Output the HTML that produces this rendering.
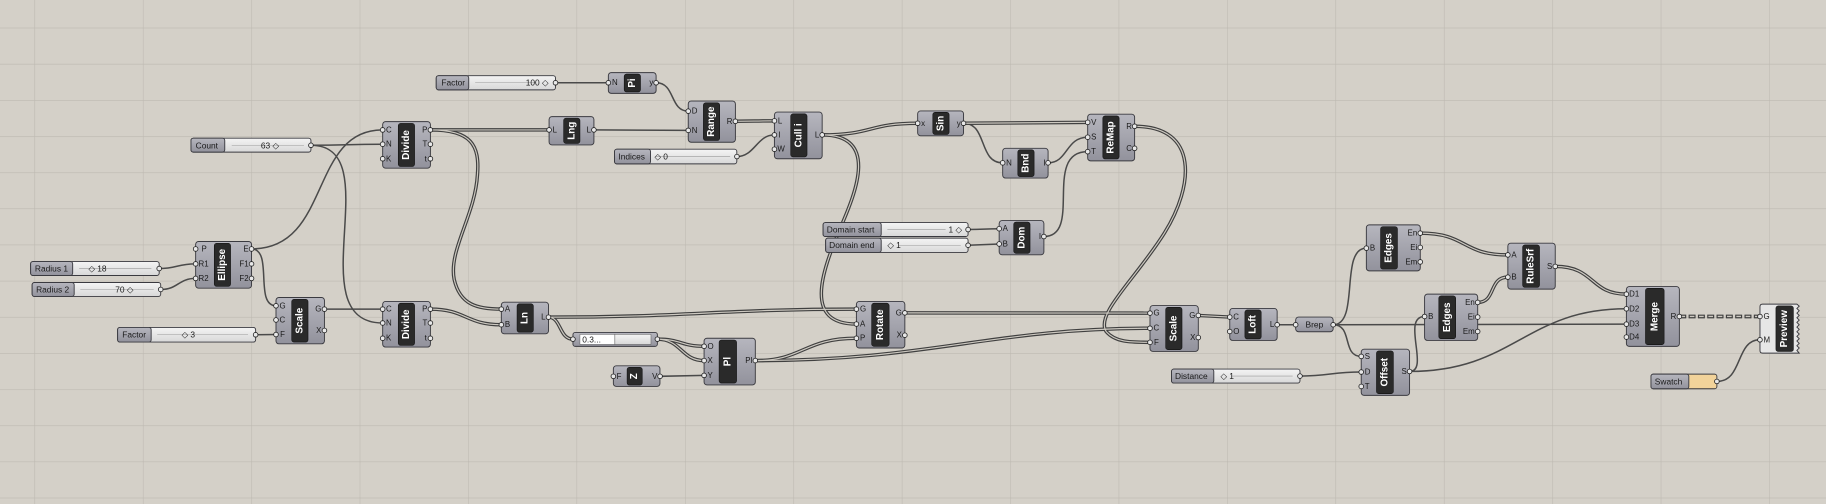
<!DOCTYPE html>
<html><head><meta charset="utf-8"><style>
html,body{margin:0;padding:0;background:#d4d0c8;overflow:hidden}
svg{display:block}
text{font-family:"Liberation Sans",sans-serif}
.b{fill:url(#ng);stroke:#3a3a40;stroke-width:.8}
.p{fill:#2a2a2a;stroke:#111;stroke-width:.5}
.nm{fill:#fff;font-weight:bold;font-size:8.5px;text-anchor:middle;dominant-baseline:central}
.l{font-size:6.8px;fill:#1a1a1a;dominant-baseline:central}
.r{text-anchor:end}
.c{fill:#e8e8e8;stroke:#222;stroke-width:.7}
.sw{stroke:#3a3a40;stroke-width:.8}
.sl{font-size:7.2px;fill:#1a1a1a;dominant-baseline:central}
.tk{stroke:#9a9a9a;stroke-width:.5}
.w{fill:none;stroke:#4a4a4a;stroke-width:1.3}
</style></head><body>
<svg width="1826" height="504" viewBox="0 0 1568 433" preserveAspectRatio="none" xmlns="http://www.w3.org/2000/svg">
<defs>
<linearGradient id="ng" x1="0" y1="0" x2="0" y2="1"><stop offset="0" stop-color="#b6b6be"/><stop offset="1" stop-color="#92929c"/></linearGradient>
<linearGradient id="sg" x1="0" y1="0" x2="0" y2="1"><stop offset="0" stop-color="#f4f4f4"/><stop offset="1" stop-color="#d8d8d8"/></linearGradient>
<pattern id="grid" x="29.6" y="23.8" width="93.1" height="31.06" patternUnits="userSpaceOnUse"><path d="M0 0 L93.1 0 M0 0 L0 31.06" stroke="#bdb9b1" stroke-width="1" fill="none"/></pattern>
<g id="dbl">
<path d="M631.5 104.2 C648 104.2 648 103.8 665 103.8"/>
<path d="M705.8 115.9 C750 115.9 745 105.9 788 105.9"/>
<path d="M705.8 115.9 C755 115.9 735 165 722 195 C705 235 690 278.4 735.4 278.4"/>
<path d="M827.4 105.9 L934 105.1"/>
<path d="M974.3 108.5 C1030 108.5 1025 160 1000 200 C975 240 940 270 950 285 C958 294 970 294.1 987.5 294.1"/>
<path d="M369.7 111.6 L471.5 111.6"/>
<path d="M369.7 111.6 C405 111.6 412 125 410 150 C408 185 385 215 390 240 C395 262 410 265.6 430.5 265.6"/>
<path d="M369.7 265.6 C400 265.6 400 279 430.5 279"/>
<path d="M471 272.5 C590 272.5 620 265.6 735.4 265.6"/>
<path d="M471 272.5 C482 272.5 480 291.4 492 291.4"/>
<path d="M564.5 291.4 C585 291.4 585 297.5 604.6 297.5"/>
<path d="M564.5 291.4 C585 291.4 585 309.8 604.6 309.8"/>
<path d="M648.6 309.8 C690 309.8 690 290.6 735.4 290.6"/>
<path d="M648.6 309.8 C800 309.8 850 282 987.5 282"/>
<path d="M777 268.8 L987.5 269"/>
<path d="M1029 271 L1056 272.4"/>
<path d="M1219.6 200.3 C1260 200.3 1255 219 1294.8 219"/>
<path d="M1268.9 259.8 C1285 259.8 1278 238.1 1294.8 238.1"/>
<path d="M1335.5 228.9 C1370 228.9 1365 252.7 1396.6 252.7"/>
</g>
</defs>
<rect x="0" y="0" width="1568" height="433" fill="#d4d0c8"/>
<rect x="0" y="0" width="1568" height="433" fill="url(#grid)"/>

<g class="w">
<path d="M477 71.1 L522.4 71.1"/>
<path d="M563.5 71.1 C580 71.1 575 95.5 591 95.5"/>
<path d="M510 111.6 L591 112"/>
<path d="M632.8 134.5 C648 134.5 650 115.9 665 115.9"/>
<path d="M827.4 105.9 C848 105.9 840 139.9 861 139.9"/>
<path d="M900 139.9 C917 139.9 915 117.9 934 117.9"/>
<path d="M896.4 203.2 C930 203.2 895 130.3 934 130.3"/>
<path d="M831.3 197.2 C845 197.2 845 196.5 858 196.5"/>
<path d="M831.3 210.7 L858 209.6"/>
<path d="M267 124.8 C298 124.8 298 123.9 328.6 123.9"/>
<path d="M267 124.8 C335 124.8 255 277.5 328.6 277.5"/>
<path d="M216 213.9 C285 213.9 265 111.6 328.6 111.6"/>
<path d="M216 213.9 C235 213.9 218 262.7 237 262.7"/>
<path d="M136.7 230.7 C152 230.7 152 226.7 168 226.7"/>
<path d="M138 248.7 C153 248.7 153 239.2 168 239.2"/>
<path d="M219.5 287.6 L237 287.4"/>
<path d="M278.6 265.6 L328.6 265.6"/>
<path d="M566.8 323.3 L604.6 322.5"/>
<path d="M1116.3 323.1 C1142 323.1 1143 319.6 1168.9 319.6"/>
<path d="M1474.3 327.7 C1497 327.7 1490 291.9 1511.3 291.9"/>
<path d="M1144.8 279 C1168 279 1150 213.2 1173.3 213.2"/>
<path d="M1144.8 279 L1396.6 278.5"/>
<path d="M1144.8 279 C1162 279 1152 306.2 1168.9 306.2"/>
<path d="M1210.4 319.1 C1228 319.1 1203 271.9 1223.3 271.9"/>
<path d="M1210.4 319.1 C1300 319.1 1310 265.3 1396.6 265.3"/>
<path d="M1096.7 279 L1112.6 279"/>
</g>
<use href="#dbl" fill="none" stroke="#404040" stroke-width="3"/>
<use href="#dbl" fill="none" stroke="#cdc9c1" stroke-width="1"/>
<path d="M1442 271.9 L1511.3 271.9" fill="none" stroke="#404040" stroke-width="3.2" stroke-dasharray="6 2"/>
<path d="M1442 271.9 L1511.3 271.9" fill="none" stroke="#cdc9c1" stroke-width="1.2" stroke-dasharray="4 4" stroke-dashoffset="-1"/>

<g>
<rect class="sw" x="374.6" y="65" width="102.4" height="12.2" rx="2" fill="url(#sg)"/><rect class="b" x="374.6" y="65" width="27.9" height="12.2" rx="2"/><text class="sl" x="379" y="71.1">Factor</text><line class="tk" x1="408" y1="71.1" x2="460" y2="71.1"/><text class="sl" x="471" y="71.1" text-anchor="end">100 ◇</text><circle class="c" cx="477" cy="71.1" r="2"/>
<rect class="sw" x="164" y="118.7" width="103" height="12" rx="2" fill="url(#sg)"/><rect class="b" x="164" y="118.7" width="29" height="12" rx="2"/><text class="sl" x="168" y="124.8">Count</text><line class="tk" x1="199" y1="124.8" x2="261" y2="124.8"/><text class="sl" x="224" y="124.8">63 ◇</text><circle class="c" cx="267" cy="124.8" r="2"/>
<rect class="sw" x="26.3" y="224.7" width="110.4" height="12" rx="2" fill="url(#sg)"/><rect class="b" x="26.3" y="224.7" width="36.1" height="12" rx="2"/><text class="sl" x="30" y="230.7">Radius 1</text><line class="tk" x1="68" y1="230.7" x2="130" y2="230.7"/><text class="sl" x="76" y="230.7">◇ 18</text><circle class="c" cx="136.7" cy="230.7" r="2"/>
<rect class="sw" x="27.6" y="242.7" width="110.4" height="12" rx="2" fill="url(#sg)"/><rect class="b" x="27.6" y="242.7" width="36.1" height="12" rx="2"/><text class="sl" x="31" y="248.7">Radius 2</text><line class="tk" x1="69" y1="248.7" x2="132" y2="248.7"/><text class="sl" x="99" y="248.7">70 ◇</text><circle class="c" cx="138" cy="248.7" r="2"/>
<rect class="sw" x="101" y="281.3" width="118.5" height="12.6" rx="2" fill="url(#sg)"/><rect class="b" x="101" y="281.3" width="28.8" height="12.6" rx="2"/><text class="sl" x="105" y="287.6">Factor</text><line class="tk" x1="135" y1="287.6" x2="213" y2="287.6"/><text class="sl" x="156" y="287.6">◇ 3</text><circle class="c" cx="219.5" cy="287.6" r="2"/>
<rect class="sw" x="527.7" y="128.2" width="105" height="12.6" rx="2" fill="url(#sg)"/><rect class="b" x="527.7" y="128.2" width="30.9" height="12.6" rx="2"/><text class="sl" x="531" y="134.5">Indices</text><line class="tk" x1="563" y1="134.5" x2="627" y2="134.5"/><text class="sl" x="562" y="134.5">◇ 0</text><circle class="c" cx="632.8" cy="134.5" r="2"/>
<rect class="sw" x="706.8" y="191.2" width="124.5" height="12" rx="2" fill="url(#sg)"/><rect class="b" x="706.8" y="191.2" width="49.9" height="12" rx="2"/><text class="sl" x="710" y="197.2">Domain start</text><line class="tk" x1="762" y1="197.2" x2="812" y2="197.2"/><text class="sl" x="826" y="197.2" text-anchor="end">1 ◇</text><circle class="c" cx="831.3" cy="197.2" r="2"/>
<rect class="sw" x="709" y="204.6" width="122.3" height="12.3" rx="2" fill="url(#sg)"/><rect class="b" x="709" y="204.6" width="47.7" height="12.3" rx="2"/><text class="sl" x="712" y="210.7">Domain end</text><line class="tk" x1="772" y1="210.7" x2="825" y2="210.7"/><text class="sl" x="762" y="210.7">◇ 1</text><circle class="c" cx="831.3" cy="210.7" r="2"/>
<rect class="sw" x="1006" y="317.1" width="110.3" height="12" rx="2" fill="url(#sg)"/><rect class="b" x="1006" y="317.1" width="36.3" height="12" rx="2"/><text class="sl" x="1009" y="323.1">Distance</text><line class="tk" x1="1058" y1="323.1" x2="1110" y2="323.1"/><text class="sl" x="1048" y="323.1">◇ 1</text><circle class="c" cx="1116.3" cy="323.1" r="2"/>
<rect class="sw" x="1417.7" y="321.4" width="56.6" height="12.6" rx="2" fill="#f2d39a"/><rect class="b" x="1417.7" y="321.4" width="32.5" height="12.6" rx="2"/><text class="sl" x="1421" y="327.7">Swatch</text><circle class="c" cx="1474.3" cy="327.7" r="2"/>
<rect class="b" x="492" y="285.6" width="72.5" height="12" rx="2"/><rect x="498" y="287.3" width="30" height="8.6" fill="#fff" stroke="#555" stroke-width=".4"/><rect x="528" y="287.3" width="31" height="8.6" fill="url(#sg)" stroke="#555" stroke-width=".4"/><text class="sl" x="500" y="291.6" font-size="6.5">0.3...</text><circle class="c" cx="492" cy="291.4" r="2"/><circle class="c" cx="564.5" cy="291.4" r="2"/>
</g>

<g>
<rect class="b" x="522.4" y="62.4" width="41" height="17.8" rx="2.5"/><rect class="p" x="536" y="63.6" width="14" height="15.4" rx="2"/><text class="nm" transform="translate(543 71.3) rotate(-90)">Pi</text>
<text class="l" x="525.5" y="71.1">N</text><text class="l r" x="561" y="71.1">y</text><circle class="c" cx="522.4" cy="71.1" r="2"/><circle class="c" cx="563.4" cy="71.1" r="2"/>
<rect class="b" x="591" y="86.8" width="40.5" height="35.4" rx="2.5"/><rect class="p" x="604" y="88.3" width="14" height="32.4" rx="2"/><text class="nm" transform="translate(611 104.5) rotate(-90)">Range</text>
<text class="l" x="594" y="95.5">D</text><text class="l" x="594" y="112">N</text><text class="l r" x="629" y="104.2">R</text><circle class="c" cx="591" cy="95.5" r="2"/><circle class="c" cx="591" cy="112" r="2"/><circle class="c" cx="631.5" cy="104.2" r="2"/>
<rect class="b" x="665" y="96.3" width="41" height="40.1" rx="2.5"/><rect class="p" x="679" y="97.8" width="14" height="37" rx="2"/><text class="nm" transform="translate(686 116.3) rotate(-90)">Cull i</text>
<text class="l" x="668" y="103.8">L</text><text class="l" x="668.5" y="115.9">I</text><text class="l" x="667.5" y="128.2">W</text><text class="l r" x="703.5" y="115.9">L</text><circle class="c" cx="665" cy="103.8" r="2"/><circle class="c" cx="665" cy="115.9" r="2"/><circle class="c" cx="665" cy="128.2" r="2"/><circle class="c" cx="706" cy="115.9" r="2"/>
<rect class="b" x="471.5" y="100.2" width="38.5" height="24.3" rx="2.5"/><rect class="p" x="484" y="101.5" width="14" height="21.7" rx="2"/><text class="nm" transform="translate(491 112.3) rotate(-90)">Lng</text>
<text class="l" x="474.5" y="111.6">L</text><text class="l r" x="507.5" y="111.6">L</text><circle class="c" cx="471.5" cy="111.6" r="2"/><circle class="c" cx="510" cy="111.6" r="2"/>
<rect class="b" x="328.6" y="104.5" width="41" height="40" rx="2.5"/><rect class="p" x="342" y="106" width="14" height="37" rx="2"/><text class="nm" transform="translate(349 124.5) rotate(-90)">Divide</text>
<text class="l" x="331.5" y="111.6">C</text><text class="l" x="331.5" y="123.9">N</text><text class="l" x="331.5" y="136.4">K</text><text class="l r" x="367" y="111.6">P</text><text class="l r" x="367" y="123.9">T</text><text class="l r" x="366.5" y="136.4">t</text>
<circle class="c" cx="328.6" cy="111.6" r="2"/><circle class="c" cx="328.6" cy="123.9" r="2"/><circle class="c" cx="328.6" cy="136.4" r="2"/><circle class="c" cx="369.6" cy="111.6" r="2"/><circle class="c" cx="369.6" cy="123.9" r="2"/><circle class="c" cx="369.6" cy="136.4" r="2"/>
<rect class="b" x="788" y="95.3" width="39.4" height="21.4" rx="2.5"/><rect class="p" x="801" y="96.5" width="14" height="19" rx="2"/><text class="nm" transform="translate(808 106) rotate(-90)">Sin</text>
<text class="l" x="791" y="105.9">x</text><text class="l r" x="825" y="105.9">y</text><circle class="c" cx="788" cy="105.9" r="2"/><circle class="c" cx="827.4" cy="105.9" r="2"/>
<rect class="b" x="861" y="127.4" width="39" height="25.6" rx="2.5"/><rect class="p" x="874" y="128.7" width="14" height="23" rx="2"/><text class="nm" transform="translate(881 140.2) rotate(-90)">Bnd</text>
<text class="l" x="864" y="139.9">N</text><text class="l r" x="898" y="139.9">I</text><circle class="c" cx="861" cy="139.9" r="2"/><circle class="c" cx="900" cy="139.9" r="2"/>
<rect class="b" x="934" y="98.1" width="40.3" height="40.1" rx="2.5"/><rect class="p" x="947" y="99.6" width="14" height="37" rx="2"/><text class="nm" transform="translate(954 118.1) rotate(-90)">ReMap</text>
<text class="l" x="937" y="105.1">V</text><text class="l" x="937" y="117.9">S</text><text class="l" x="937" y="130.3">T</text><text class="l r" x="972" y="108.5">R</text><text class="l r" x="972" y="127.4">C</text>
<circle class="c" cx="934" cy="105.1" r="2"/><circle class="c" cx="934" cy="117.9" r="2"/><circle class="c" cx="934" cy="130.3" r="2"/><circle class="c" cx="974.3" cy="108.5" r="2"/><circle class="c" cx="974.3" cy="127.4" r="2"/>
<rect class="b" x="858" y="189.5" width="38.4" height="29.4" rx="2.5"/><rect class="p" x="870.5" y="190.8" width="14" height="26.8" rx="2"/><text class="nm" transform="translate(877.5 204.2) rotate(-90)">Dom</text>
<text class="l" x="861" y="196.5">A</text><text class="l" x="861" y="209.6">B</text><text class="l r" x="894" y="203.2">I</text><circle class="c" cx="858" cy="196.5" r="2"/><circle class="c" cx="858" cy="209.6" r="2"/><circle class="c" cx="896.4" cy="203.2" r="2"/>
<rect class="b" x="168" y="207.5" width="48" height="40.1" rx="2.5"/><rect class="p" x="184" y="209" width="14" height="37" rx="2"/><text class="nm" transform="translate(191 227.5) rotate(-90)">Ellipse</text>
<text class="l" x="173" y="213.9">P</text><text class="l" x="170.5" y="226.7">R1</text><text class="l" x="170.5" y="239.2">R2</text><text class="l r" x="213.5" y="213.9">E</text><text class="l r" x="213.5" y="226.7">F1</text><text class="l r" x="213.5" y="239.2">F2</text>
<circle class="c" cx="168" cy="213.9" r="2"/><circle class="c" cx="168" cy="226.7" r="2"/><circle class="c" cx="168" cy="239.2" r="2"/><circle class="c" cx="216" cy="213.9" r="2"/><circle class="c" cx="216" cy="226.7" r="2"/><circle class="c" cx="216" cy="239.2" r="2"/>
<rect class="b" x="237" y="255.6" width="41.6" height="39.8" rx="2.5"/><rect class="p" x="250.5" y="257.1" width="14" height="36.8" rx="2"/><text class="nm" transform="translate(257.5 275.5) rotate(-90)">Scale</text>
<text class="l" x="240" y="262.7">G</text><text class="l" x="240" y="274.9">C</text><text class="l" x="240.5" y="287.4">F</text><text class="l r" x="276" y="265.6">G</text><text class="l r" x="276" y="283.9">X</text>
<circle class="c" cx="237" cy="262.7" r="2"/><circle class="c" cx="237" cy="274.9" r="2"/><circle class="c" cx="237" cy="287.4" r="2"/><circle class="c" cx="278.6" cy="265.6" r="2"/><circle class="c" cx="278.6" cy="283.9" r="2"/>
<rect class="b" x="328.6" y="259" width="41" height="39.2" rx="2.5"/><rect class="p" x="342" y="260.5" width="14" height="36.2" rx="2"/><text class="nm" transform="translate(349 278.6) rotate(-90)">Divide</text>
<text class="l" x="331.5" y="265.6">C</text><text class="l" x="331.5" y="277.5">N</text><text class="l" x="331.5" y="290.6">K</text><text class="l r" x="367" y="265.6">P</text><text class="l r" x="367" y="277.5">T</text><text class="l r" x="366.5" y="290.6">t</text>
<circle class="c" cx="328.6" cy="265.6" r="2"/><circle class="c" cx="328.6" cy="277.5" r="2"/><circle class="c" cx="328.6" cy="290.6" r="2"/><circle class="c" cx="369.6" cy="265.6" r="2"/><circle class="c" cx="369.6" cy="277.5" r="2"/><circle class="c" cx="369.6" cy="290.6" r="2"/>
<rect class="b" x="430.5" y="259.6" width="40.5" height="27.2" rx="2.5"/><rect class="p" x="444" y="261" width="14" height="24.4" rx="2"/><text class="nm" transform="translate(451 273.2) rotate(-90)">Ln</text>
<text class="l" x="433.5" y="265.6">A</text><text class="l" x="433.5" y="279">B</text><text class="l r" x="468.5" y="272.5">L</text>
<circle class="c" cx="430.5" cy="265.6" r="2"/><circle class="c" cx="430.5" cy="279" r="2"/><circle class="c" cx="471" cy="272.5" r="2"/>
<rect class="b" x="604.6" y="290.6" width="44" height="40.1" rx="2.5"/><rect class="p" x="617.5" y="292.1" width="15" height="37" rx="2"/><text class="nm" transform="translate(625 310.6) rotate(-90)">Pl</text>
<text class="l" x="607.5" y="297.5">O</text><text class="l" x="607.5" y="309.8">X</text><text class="l" x="607.5" y="322.5">Y</text><text class="l r" x="646" y="309.8">Pl</text>
<circle class="c" cx="604.6" cy="297.5" r="2"/><circle class="c" cx="604.6" cy="309.8" r="2"/><circle class="c" cx="604.6" cy="322.5" r="2"/><circle class="c" cx="648.6" cy="309.8" r="2"/>
<rect class="b" x="526.7" y="314.3" width="40" height="17.7" rx="2.5"/><rect class="p" x="538.5" y="315.5" width="13" height="15.3" rx="2"/><text class="nm" transform="translate(545 323.2) rotate(-90)">Z</text>
<text class="l" x="529.5" y="323.3">F</text><text class="l r" x="564.5" y="323.3">V</text><circle class="c" cx="526.7" cy="323.3" r="2"/><circle class="c" cx="566.8" cy="323.3" r="2"/>
<rect class="b" x="735.4" y="259" width="41.6" height="40" rx="2.5"/><rect class="p" x="748.5" y="260.5" width="15" height="37" rx="2"/><text class="nm" transform="translate(756 279) rotate(-90)">Rotate</text>
<text class="l" x="738.5" y="265.6">G</text><text class="l" x="738.5" y="278.4">A</text><text class="l" x="738.5" y="290.6">P</text><text class="l r" x="774.5" y="268.8">G</text><text class="l r" x="774.5" y="288">X</text>
<circle class="c" cx="735.4" cy="265.6" r="2"/><circle class="c" cx="735.4" cy="278.4" r="2"/><circle class="c" cx="735.4" cy="290.6" r="2"/><circle class="c" cx="777" cy="268.8" r="2"/><circle class="c" cx="777" cy="288" r="2"/>
<rect class="b" x="987.5" y="262.5" width="41.5" height="39.4" rx="2.5"/><rect class="p" x="1001" y="264" width="14" height="36.4" rx="2"/><text class="nm" transform="translate(1008 282.2) rotate(-90)">Scale</text>
<text class="l" x="990.5" y="269">G</text><text class="l" x="990.5" y="282">C</text><text class="l" x="991" y="294.1">F</text><text class="l r" x="1026.5" y="271">G</text><text class="l r" x="1026.5" y="290">X</text>
<circle class="c" cx="987.5" cy="269" r="2"/><circle class="c" cx="987.5" cy="282" r="2"/><circle class="c" cx="987.5" cy="294.1" r="2"/><circle class="c" cx="1029" cy="271" r="2"/><circle class="c" cx="1029" cy="290" r="2"/>
<rect class="b" x="1056" y="265" width="40.7" height="27.5" rx="2.5"/><rect class="p" x="1069" y="266.3" width="14" height="24.9" rx="2"/><text class="nm" transform="translate(1076 278.7) rotate(-90)">Loft</text>
<text class="l" x="1059" y="272.4">C</text><text class="l" x="1059" y="284.8">O</text><text class="l r" x="1094.2" y="279">L</text>
<circle class="c" cx="1056" cy="272.4" r="2"/><circle class="c" cx="1056" cy="284.8" r="2"/><circle class="c" cx="1096.7" cy="279" r="2"/>
<rect class="b" x="1112.6" y="272.4" width="32.2" height="12.6" rx="2.5"/><text class="sl" x="1128.7" y="278.8" text-anchor="middle">Brep</text>
<circle class="c" cx="1112.6" cy="279" r="2"/><circle class="c" cx="1144.8" cy="279" r="2"/>
<rect class="b" x="1173.3" y="193.2" width="46.3" height="39.5" rx="2.5"/><rect class="p" x="1185.5" y="194.7" width="14.5" height="36.5" rx="2"/><text class="nm" transform="translate(1192.8 213) rotate(-90)">Edges</text>
<text class="l" x="1176.3" y="213.2">B</text><text class="l r" x="1217" y="200.3">En</text><text class="l r" x="1217" y="212.6">Ei</text><text class="l r" x="1217" y="225">Em</text>
<circle class="c" cx="1173.3" cy="213.2" r="2"/><circle class="c" cx="1219.6" cy="200.3" r="2"/><circle class="c" cx="1219.6" cy="212.6" r="2"/><circle class="c" cx="1219.6" cy="225" r="2"/>
<rect class="b" x="1223.3" y="252.7" width="45.6" height="39.8" rx="2.5"/><rect class="p" x="1235.5" y="254.2" width="14.5" height="36.8" rx="2"/><text class="nm" transform="translate(1242.8 272.6) rotate(-90)">Edges</text>
<text class="l" x="1226.3" y="271.9">B</text><text class="l r" x="1266.4" y="259.8">En</text><text class="l r" x="1266.4" y="272.4">Ei</text><text class="l r" x="1266.4" y="284.8">Em</text>
<circle class="c" cx="1223.3" cy="271.9" r="2"/><circle class="c" cx="1268.9" cy="259.8" r="2"/><circle class="c" cx="1268.9" cy="272.4" r="2"/><circle class="c" cx="1268.9" cy="284.8" r="2"/>
<rect class="b" x="1294.8" y="208.9" width="40.7" height="39.5" rx="2.5"/><rect class="p" x="1307.5" y="210.4" width="14.5" height="36.5" rx="2"/><text class="nm" transform="translate(1314.8 228.7) rotate(-90)">RuleSrf</text>
<text class="l" x="1297.8" y="219">A</text><text class="l" x="1297.8" y="238.1">B</text><text class="l r" x="1333" y="228.9">S</text>
<circle class="c" cx="1294.8" cy="219" r="2"/><circle class="c" cx="1294.8" cy="238.1" r="2"/><circle class="c" cx="1335.5" cy="228.9" r="2"/>
<rect class="b" x="1396.6" y="246.2" width="45.5" height="51.4" rx="2.5"/><rect class="p" x="1413" y="247.7" width="16" height="48.4" rx="2"/><text class="nm" transform="translate(1421 272) rotate(-90)" font-size="9.5">Merge</text>
<text class="l" x="1399" y="252.7">D1</text><text class="l" x="1399" y="265.3">D2</text><text class="l" x="1399" y="278.5">D3</text><text class="l" x="1399" y="289.6">D4</text><text class="l r" x="1439.5" y="271.9">R</text>
<circle class="c" cx="1396.6" cy="252.7" r="2"/><circle class="c" cx="1396.6" cy="265.3" r="2"/><circle class="c" cx="1396.6" cy="278.5" r="2"/><circle class="c" cx="1396.6" cy="289.6" r="2"/><circle class="c" cx="1442.1" cy="271.9" r="2"/>
<rect class="b" x="1168.9" y="300" width="41.5" height="39.7" rx="2.5"/><rect class="p" x="1182" y="301.5" width="14.5" height="36.7" rx="2"/><text class="nm" transform="translate(1189.3 319.8) rotate(-90)">Offset</text>
<text class="l" x="1171.9" y="306.2">S</text><text class="l" x="1171.9" y="319.6">D</text><text class="l" x="1171.9" y="332">T</text><text class="l r" x="1208" y="319.1">S</text>
<circle class="c" cx="1168.9" cy="306.2" r="2"/><circle class="c" cx="1168.9" cy="319.6" r="2"/><circle class="c" cx="1168.9" cy="332" r="2"/><circle class="c" cx="1210.4" cy="319.1" r="2"/>
<path d="M1513.5 261.3 L1543 261.3 L1545 263 L1543 265 L1545 267 L1543 269 L1545 271 L1543 273 L1545 275 L1543 277 L1545 279 L1543 281 L1545 283 L1543 285 L1545 287 L1543 289 L1545 291 L1543 293 L1545 295 L1543 297 L1545 299 L1543 301 L1545 303.4 L1513.5 303.4 Q1511.3 303.4 1511.3 301 L1511.3 263.5 Q1511.3 261.3 1513.5 261.3 Z" fill="#e6e6e6" stroke="#3a3a40" stroke-width=".8"/>
<rect class="p" x="1525" y="262.8" width="15" height="39.2" rx="2"/><text class="nm" transform="translate(1532.5 282.4) rotate(-90)">Preview</text>
<text class="l" x="1514.3" y="271.9">G</text><text class="l" x="1514.3" y="291.9">M</text>
<circle class="c" cx="1511.3" cy="271.9" r="2"/><circle class="c" cx="1511.3" cy="291.9" r="2"/>
</g>
</svg>
</body></html>
